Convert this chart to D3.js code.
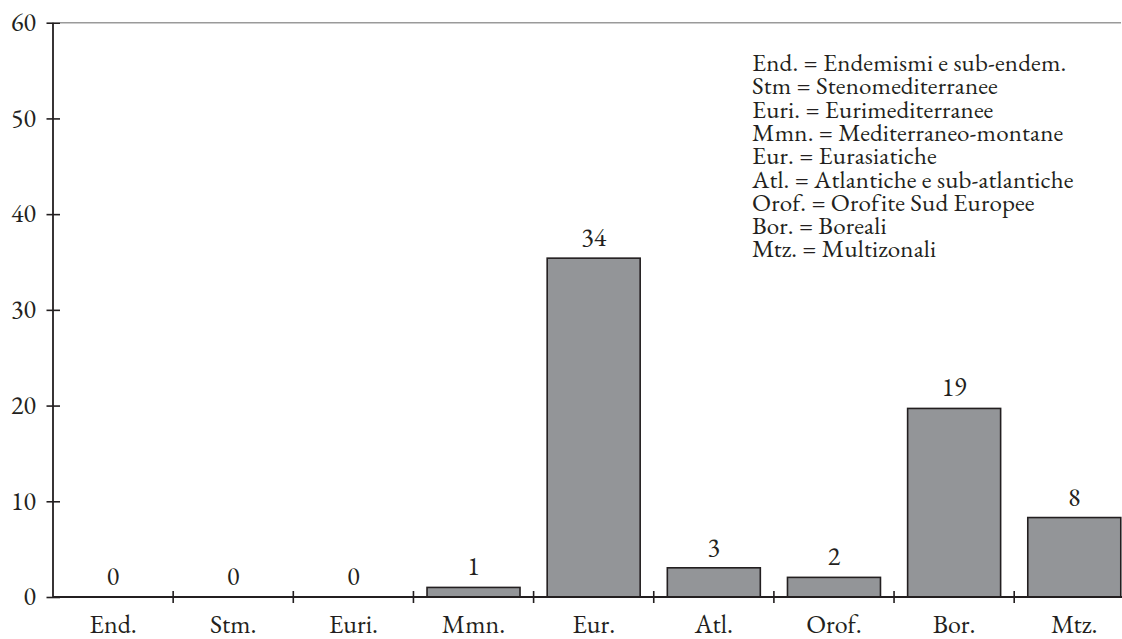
<!DOCTYPE html>
<html>
<head>
<meta charset="utf-8">
<script src="https://cdn.jsdelivr.net/npm/d3@7"></script>
<style>
  html, body { margin: 0; padding: 0; background: #fff; }
  svg { display: block; }
</style>
</head>
<body>
<svg id="chart" width="1122" height="639"></svg>
<script>
// Categories (x axis)
const categories = ["End.", "Stm.", "Euri.", "Mmn.", "Eur.", "Atl.", "Orof.", "Bor.", "Mtz."];
// Bar heights (axis units)
const barValues = [0, 0, 0, 1.0, 35.4, 3.05, 2.05, 19.7, 8.3];
// Value labels printed above the bars
const valueLabels = ["0", "0", "0", "1", "34", "3", "2", "19", "8"];
// Y axis ticks
const yTicks = [0, 10, 20, 30, 40, 50, 60];
// Legend lines
const legendLines = [
  "End. = Endemismi e sub-endem.",
  "Stm = Stenomediterranee",
  "Euri. = Eurimediterranee",
  "Mmn. = Mediterraneo-montane",
  "Eur. = Eurasiatiche",
  "Atl. = Atlantiche e sub-atlantiche",
  "Orof. = Orofite Sud Europee",
  "Bor. = Boreali",
  "Mtz. = Multizonali"
];

const FONT = '"EB Garamond"';
const FS = 26;

const svg = d3.select("#chart");
const ink = "#231f20";
const x0 = 53, xEnd = 53 + 9 * 120.15;
const yBottom = 597, yTop = 22.7;

const x = d3.scaleBand()
  .domain(categories)
  .range([x0, xEnd])
  .paddingInner(0.226)
  .paddingOuter(0.113);

const y = d3.scaleLinear().domain([0, 60]).range([yBottom, yTop]);

function styleText(sel, size) {
  return sel.style("font-family", FONT)
    .style("font-size", (size || FS) + "px")
    .attr("fill", ink);
}

// Top grey line at 60
svg.append("line")
  .attr("x1", x0 + 7).attr("x2", 1121)
  .attr("y1", y(60)).attr("y2", y(60))
  .attr("stroke", "#9a9a9a").attr("stroke-width", 1.6);

const rows = categories.map((c, i) => ({ c, v: barValues[i], l: valueLabels[i] }));

// Bars
svg.append("g").selectAll("rect")
  .data(rows.filter(d => d.v > 0))
  .join("rect")
  .attr("x", d => x(d.c))
  .attr("width", x.bandwidth())
  .attr("y", d => y(d.v))
  .attr("height", d => y(0) - y(d.v))
  .attr("fill", "#939598")
  .attr("stroke", ink)
  .attr("stroke-width", 1.6);

// Value labels
svg.append("g").selectAll("text")
  .data(rows)
  .join("text")
  .attr("x", d => x(d.c) + x.bandwidth() / 2)
  .attr("y", d => y(d.v) - 12)
  .attr("text-anchor", "middle")
  .call(styleText)
  .text(d => d.l);

// X axis line
svg.append("line")
  .attr("x1", x0).attr("x2", 1122)
  .attr("y1", yBottom).attr("y2", yBottom)
  .attr("stroke", ink).attr("stroke-width", 1.8);

// X boundary ticks
const boundaries = categories.slice(1).map(c => x(c) - x.step() * x.paddingInner() / 2);
svg.append("g").selectAll("line")
  .data(boundaries)
  .join("line")
  .attr("x1", d => d).attr("x2", d => d)
  .attr("y1", yBottom - 6).attr("y2", yBottom + 6)
  .attr("stroke", ink).attr("stroke-width", 1.6);

// X labels
svg.append("g").selectAll("text")
  .data(categories)
  .join("text")
  .attr("x", d => x(d) + x.bandwidth() / 2)
  .attr("y", 633)
  .attr("text-anchor", "middle")
  .call(styleText)
  .text(d => d);

// Y axis
const yAxis = d3.axisLeft(y).tickValues(yTicks).tickSize(0).tickFormat(d3.format("d"));
const gy = svg.append("g").attr("transform", `translate(${x0},0)`).call(yAxis);
gy.select(".domain").remove();
gy.selectAll(".tick text")
  .attr("x", -17)
  .attr("dy", "0.3em")
  .call(styleText);
gy.selectAll(".tick").append("line")
  .attr("x1", -6.5).attr("x2", 7)
  .attr("stroke", ink).attr("stroke-width", 1.6);

svg.append("line")
  .attr("x1", x0).attr("x2", x0)
  .attr("y1", yTop).attr("y2", yBottom + 1)
  .attr("stroke", ink).attr("stroke-width", 1.8);

// Legend
svg.append("g").selectAll("text")
  .data(legendLines)
  .join("text")
  .attr("x", 752)
  .attr("y", (d, i) => 71 + i * 23.3)
  .call(styleText, 25)
  .style("letter-spacing", "0.15px")
  .text(d => d);
</script>
</body>
</html>
